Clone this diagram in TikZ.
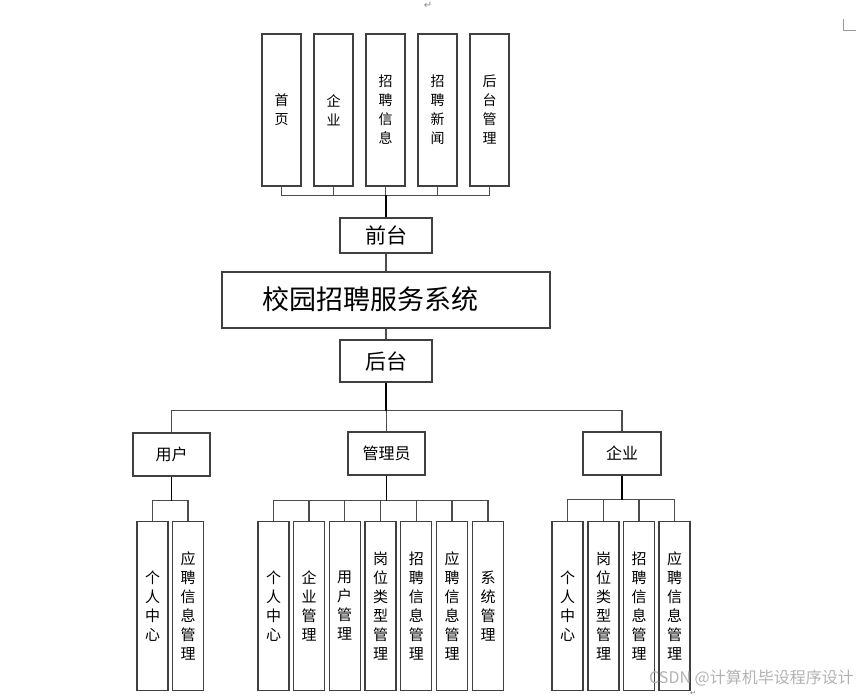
\documentclass[tikz,border=0pt]{standalone}
\usepackage{fontspec}
\newfontfamily\cjk{Noto Sans CJK SC}
\newfontfamily\sym{DejaVu Sans}
\begin{document}
\begin{tikzpicture}[x=1pt,y=-1pt,
  every node/.style={font=\cjk},
  boxline/.style={draw=black!75, line width=1.2pt},
  vbox/.style={boxline, inner sep=0pt, align=center, text width=30pt,
     font=\cjk\fontsize{14}{19}\selectfont},
  tbox/.style={vbox, minimum width=39pt, minimum height=152pt},
  cbox/.style={vbox, minimum width=31pt, minimum height=169pt,
     font=\cjk\fontsize{15}{19}\selectfont},
  hbox/.style={boxline, inner sep=0pt},
  bus/.style={draw=black!70, line width=1.1pt},
  trunk/.style={draw=black, line width=1.3pt}]
\useasboundingbox (0,0) rectangle (857,696);
% top level
\node[tbox] (t1) at (281.5,110) {首\\页};
\node[tbox] (t2) at (333.5,110) {企\\业};
\node[tbox] (t3) at (385.5,110) {招\\聘\\信\\息};
\node[tbox] (t4) at (437.5,110) {招\\聘\\新\\闻};
\node[tbox] (t5) at (489.5,110) {后\\台\\管\\理};
\node[hbox, minimum width=92pt, minimum height=35pt, font=\cjk\fontsize{21}{21}\selectfont] (qt) at (386,235.5) {前台};
\node[hbox, minimum width=328pt, minimum height=56pt] (sys) at (386,300) {};
\node[font=\cjk\fontsize{27}{27}\selectfont] (title) at (370,299) {校园招聘服务系统};
\node[hbox, minimum width=92pt, minimum height=42pt, font=\cjk\fontsize{21}{21}\selectfont] (ht) at (386,361) {后台};
% second level
\node[hbox, minimum width=77pt, minimum height=43pt, font=\cjk\fontsize{16}{16}\selectfont] (yh) at (171.5,454.5) {用户};
\node[hbox, minimum width=77pt, minimum height=43pt, font=\cjk\fontsize{16}{16}\selectfont] (gly) at (386.5,453.5) {管理员};
\node[hbox, minimum width=78pt, minimum height=43pt, font=\cjk\fontsize{16}{16}\selectfont] (qy) at (622,453.5) {企业};
% user children
\node[cbox] (u1) at (152.5,606) {个\\人\\中\\心};
\node[cbox] (u2) at (188,606) {应\\聘\\信\\息\\管\\理};
% admin children
\node[cbox] (a1) at (273.5,606) {个\\人\\中\\心};
\node[cbox] (a2) at (309,606) {企\\业\\管\\理};
\node[cbox] (a3) at (344.7,606) {用\\户\\管\\理};
\node[cbox] (a4) at (380.5,606) {岗\\位\\类\\型\\管\\理};
\node[cbox] (a5) at (416.3,606) {招\\聘\\信\\息\\管\\理};
\node[cbox] (a6) at (452,606) {应\\聘\\信\\息\\管\\理};
\node[cbox] (a7) at (488,606) {系\\统\\管\\理};
% company children
\node[cbox] (c1) at (567.5,606) {个\\人\\中\\心};
\node[cbox] (c2) at (603.5,606) {岗\\位\\类\\型\\管\\理};
\node[cbox] (c3) at (639,606) {招\\聘\\信\\息\\管\\理};
\node[cbox] (c4) at (674.5,606) {应\\聘\\信\\息\\管\\理};
% connectors top
\foreach \t in {t1,t2,t3,t4,t5} \draw[bus] (qt.north) ++(0,-22) -| (\t.south);
\draw[trunk] (qt.north) -- ++(0,-22);
\draw[bus] (qt.south) -- (sys.north);
\draw[bus] (sys.south) -- (ht.north);
\foreach \t in {yh,gly,qy} \draw[bus] (ht.south) ++(0,28) -| (\t.north);
\draw[trunk] (ht.south) -- ++(0,28);
\foreach \t in {u1,u2} \draw[bus] (yh.south) ++(0,24) -| (\t.north);
\draw[trunk] (yh.south) -- ++(0,24);
\foreach \t in {a1,a2,a3,a4,a5,a6,a7} \draw[bus] (gly.south) ++(0,25) -| (\t.north);
\draw[trunk] (gly.south) -- ++(0,25);
\foreach \t in {c1,c2,c3,c4} \draw[bus] (qy.south) ++(0,24) -| (\t.north);
\draw[trunk] (qy.south) -- ++(0,24);
% page artifacts
\coordinate (cm) at (843,30);
\draw[black!40, line width=1pt] (cm) ++(0,-11) -- (cm) -- ++(13,0);
\node[text=black!45, font=\sym\fontsize{10}{10}\selectfont] (rt) at (428,5) {↵};
\node[text=black!30, font=\cjk\fontsize{16}{16}\selectfont, anchor=east, inner sep=1pt] (wm) at (855,678) {CSDN @计算机毕设程序设计};
\node[text=black!55, font=\sym\fontsize{7}{7}\selectfont, inner sep=0pt, anchor=south] (rb) at (693,696) {↵};
\end{tikzpicture}
\end{document}
